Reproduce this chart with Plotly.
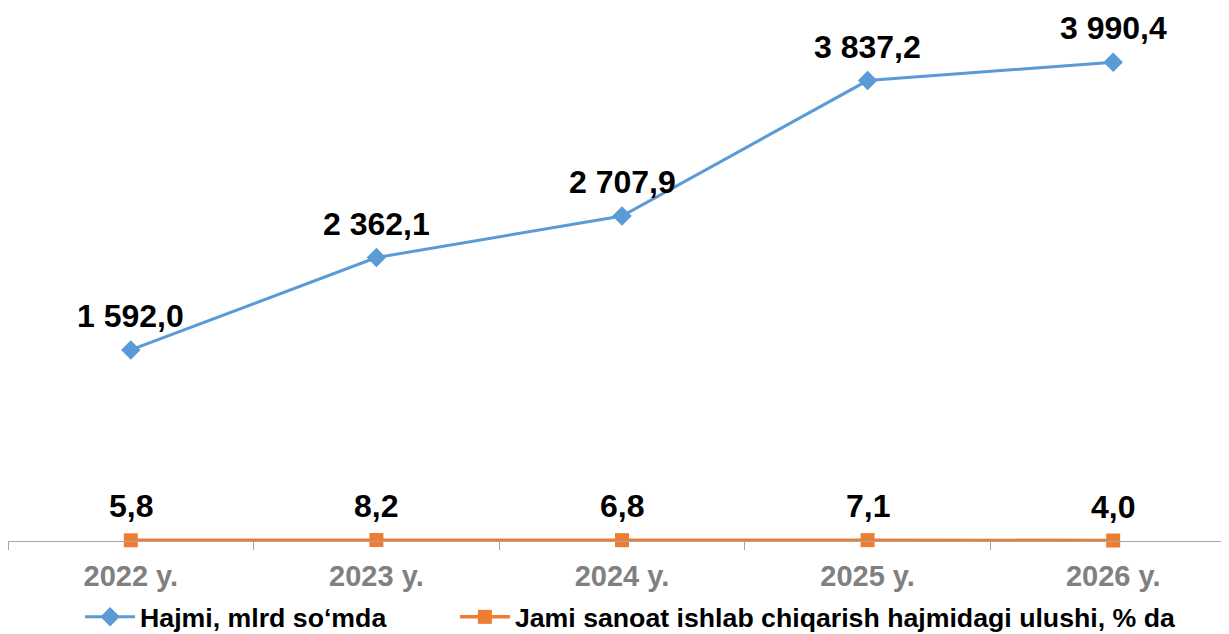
import plotly.graph_objects as go

categories = ["2022 y.", "2023 y.", "2024 y.", "2025 y.", "2026 y."]
hajmi = [1592.0, 2362.1, 2707.9, 3837.2, 3990.4]
ulushi = [5.8, 8.2, 6.8, 7.1, 4.0]
name_hajmi = "Hajmi, mlrd so‘mda"
name_ulushi = "Jami sanoat ishlab chiqarish hajmidagi ulushi, % da"

def fmt(v):
    return f"{v:,.1f}".replace(",", " ").replace(".", ",")

FONT = "Arial, Liberation Sans, sans-serif"
BLUE = "#5B9BD5"
ORANGE = "#ED7D31"
LABEL_FONT = dict(family=FONT, size=32, color="black", weight="bold")
LEGEND_FONT = dict(family=FONT, size=26.7, color="black", weight="bold")

fig = go.Figure()
fig.add_trace(go.Scatter(
    x=categories, y=hajmi, name=name_hajmi,
    mode="lines+markers",
    line=dict(color=BLUE, width=3),
    marker=dict(symbol="diamond", size=15, color=BLUE),
    cliponaxis=False, legend="legend",
))
fig.add_trace(go.Scatter(
    x=categories, y=ulushi, name=name_ulushi,
    mode="lines+markers",
    line=dict(color=ORANGE, width=3.5),
    marker=dict(symbol="square", size=14, color=ORANGE),
    cliponaxis=False, legend="legend2",
))

for series in (hajmi, ulushi):
    for c, v in zip(categories, series):
        fig.add_annotation(
            x=c, y=v, text=fmt(v), showarrow=False,
            xanchor="center", yanchor="middle", yshift=34,
            font=LABEL_FONT,
        )

legend_common = dict(
    orientation="h", yanchor="middle", y=-0.1426,
    font=LEGEND_FONT, itemwidth=50, bgcolor="rgba(0,0,0,0)",
)

# page body has an 8px margin: plot area placed to match the 1229x634 window
fig.update_layout(
    width=1221, height=640,
    margin=dict(l=0, r=0, t=0, b=107),
    paper_bgcolor="white", plot_bgcolor="white",
    font=dict(family=FONT),
    showlegend=True,
    legend=dict(x=0.059, xanchor="left", **legend_common),
    legend2=dict(x=0.366, xanchor="left", **legend_common),
    xaxis=dict(
        type="category", range=[-0.5, 4.4715], automargin=False,
        showline=True, linecolor="#A6A6A6", linewidth=1,
        ticks="outside", tickson="boundaries", ticklen=8, tickcolor="#A6A6A6",
        ticklabelstandoff=9,
        tickfont=dict(family=FONT, size=29, color="#808080", weight="bold"),
        showgrid=False, zeroline=False,
    ),
    yaxis=dict(range=[0, 4442], visible=False, showgrid=False, zeroline=False,
               automargin=False),
)

fig.write_html("out.html")
